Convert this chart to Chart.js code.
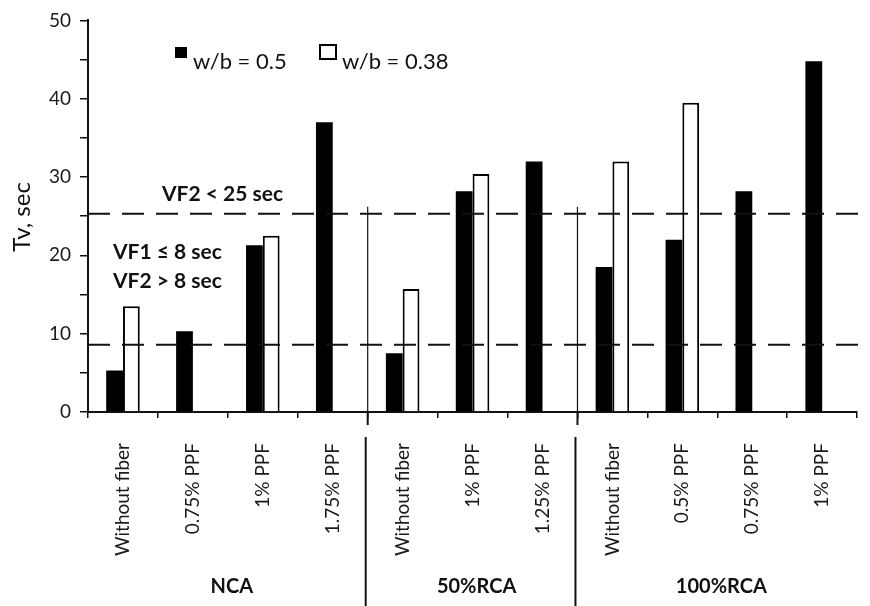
<!DOCTYPE html>
<html>
<head>
<meta charset="utf-8">
<script src="https://cdn.jsdelivr.net/npm/chart.js@4/dist/chart.umd.min.js"></script>
<style>
html,body{margin:0;padding:0;background:#fff;overflow:hidden;}
#wrap{position:relative;width:870px;height:606px;}
</style>
</head>
<body>
<div id="wrap"><canvas id="c" width="870" height="606"></canvas></div>
<script>
const categories = ['Without fiber','0.75% PPF','1% PPF','1.75% PPF','Without fiber','1% PPF','1.25% PPF','Without fiber','0.5% PPF','0.75% PPF','1% PPF'];
const wb050 = [5.3, 10.3, 21.3, 37.0, 7.5, 28.2, 32.0, 18.5, 22.0, 28.2, 44.8];
const wb038 = [13.5, null, 22.5, null, 15.7, 30.4, null, 32.0, 39.5, null, null];
const groupNames = ['NCA', '50%RCA', '100%RCA'];
const groupSizes = [4, 3, 4];
const thresholds = [25.3, 8.6];
const separatorTop = 26.2;
const seriesNames = ['w/b = 0.5', 'w/b = 0.38'];
const notes = ['VF2 < 25 sec', 'VF1 \u2264 8 sec', 'VF2 > 8 sec'];
const yTitle = 'Tv, sec';

const FONT = 'Lato, "Open Sans", sans-serif';

const overlay = {
  id: 'overlay',
  afterDatasetsDraw(chart) {
    const ctx = chart.ctx;
    const xs = chart.scales.x, ys = chart.scales.y;
    const a = chart.chartArea;
    ctx.save();
    ctx.strokeStyle = '#111';
    ctx.lineWidth = 2;
    ctx.setLineDash([22, 12]);
    thresholds.forEach(t => {
      const y = ys.getPixelForValue(t);
      ctx.beginPath(); ctx.moveTo(a.left, y); ctx.lineTo(chart.width, y); ctx.stroke();
    });
    ctx.setLineDash([]);
    let idx = 0;
    const bounds = [];
    groupSizes.forEach((n, gi) => {
      const x0 = gi === 0 ? a.left : (xs.getPixelForValue(idx - 1) + xs.getPixelForValue(idx)) / 2;
      const end = idx + n - 1;
      const x1 = end === categories.length - 1 ? xs.getPixelForValue(end) + (xs.getPixelForValue(end) - xs.getPixelForValue(end - 1)) / 2 : (xs.getPixelForValue(end) + xs.getPixelForValue(end + 1)) / 2;
      bounds.push([x0, x1]);
      idx += n;
    });
    const topY = ys.getPixelForValue(separatorTop);
    bounds.slice(1).forEach(b => {
      const x = b[0];
      ctx.lineWidth = 1.2;
      ctx.beginPath(); ctx.moveTo(x, topY); ctx.lineTo(x, a.bottom); ctx.stroke();
      ctx.lineWidth = 2;
      ctx.beginPath(); ctx.moveTo(x, a.bottom); ctx.lineTo(x, a.bottom + 13); ctx.stroke();
      ctx.beginPath(); ctx.moveTo(x - 2, a.bottom + 25); ctx.lineTo(x - 2, chart.height); ctx.stroke();
    });
    ctx.fillStyle = '#111';
    ctx.font = 'bold 20px ' + FONT;
    ctx.textAlign = 'center';
    ctx.textBaseline = 'middle';
    bounds.forEach((b, i) => {
      ctx.fillText(groupNames[i], (b[0] + b[1]) / 2 + 4, 587);
    });
    ctx.font = 'bold 21px ' + FONT;
    ctx.textAlign = 'left';
    ctx.fillText(notes[0], 162, 194);
    ctx.fillText(notes[1], 113, 252);
    ctx.fillText(notes[2], 113, 281);
    ctx.fillStyle = '#000';
    ctx.fillRect(175, 47, 12, 11);
    ctx.strokeStyle = '#000';
    ctx.lineWidth = 2;
    ctx.strokeRect(320, 45, 16, 14);
    ctx.font = '22px ' + FONT;
    ctx.textBaseline = 'alphabetic';
    ctx.fillStyle = '#111';
    ctx.fillText(seriesNames[0], 193, 69);
    ctx.fillText(seriesNames[1], 342, 69);
    ctx.save();
    ctx.translate(22, 217);
    ctx.rotate(-Math.PI / 2);
    ctx.textAlign = 'center';
    ctx.textBaseline = 'middle';
    ctx.font = '24px ' + FONT;
    ctx.fillText(yTitle, 0, 0);
    ctx.restore();
    ctx.restore();
  }
};

new Chart(document.getElementById('c'), {
  type: 'bar',
  data: {
    labels: categories,
    datasets: [
      { label: seriesNames[0], data: wb050, backgroundColor: '#000', borderColor: '#000', borderWidth: 0 },
      { label: seriesNames[1], data: wb038, backgroundColor: '#fff', borderColor: '#000', borderWidth: 2 }
    ]
  },
  options: {
    responsive: false,
    animation: false,
    categoryPercentage: 0.48,
    barPercentage: 1.0,
    layout: { padding: { top: 18, right: 0, left: 0, bottom: 0 } },
    plugins: { legend: { display: false }, tooltip: { enabled: false } },
    scales: {
      x: {
        afterFit(s) { s.height = 194; },
        grid: { offset: true, drawOnChartArea: false, drawTicks: true, tickLength: 6, color: '#111', lineWidth: 1.5 },
        border: { color: '#111', width: 2 },
        ticks: { minRotation: 90, maxRotation: 90, autoSkip: false, padding: 25, color: '#1a1a1a', font: { family: FONT, size: 19 } }
      },
      y: {
        min: 0, max: 50,
        afterFit(s) { s.width = 88; },
        grid: { drawOnChartArea: false, drawTicks: true, tickLength: 8, color: '#111', lineWidth: 1.5 },
        border: { color: '#111', width: 2 },
        ticks: { stepSize: 5, padding: 9, color: '#1a1a1a', font: { family: FONT, size: 19 },
          callback: v => (v % 10 === 0 ? v : '') }
      }
    }
  },
  plugins: [overlay]
});
</script>
</body>
</html>
